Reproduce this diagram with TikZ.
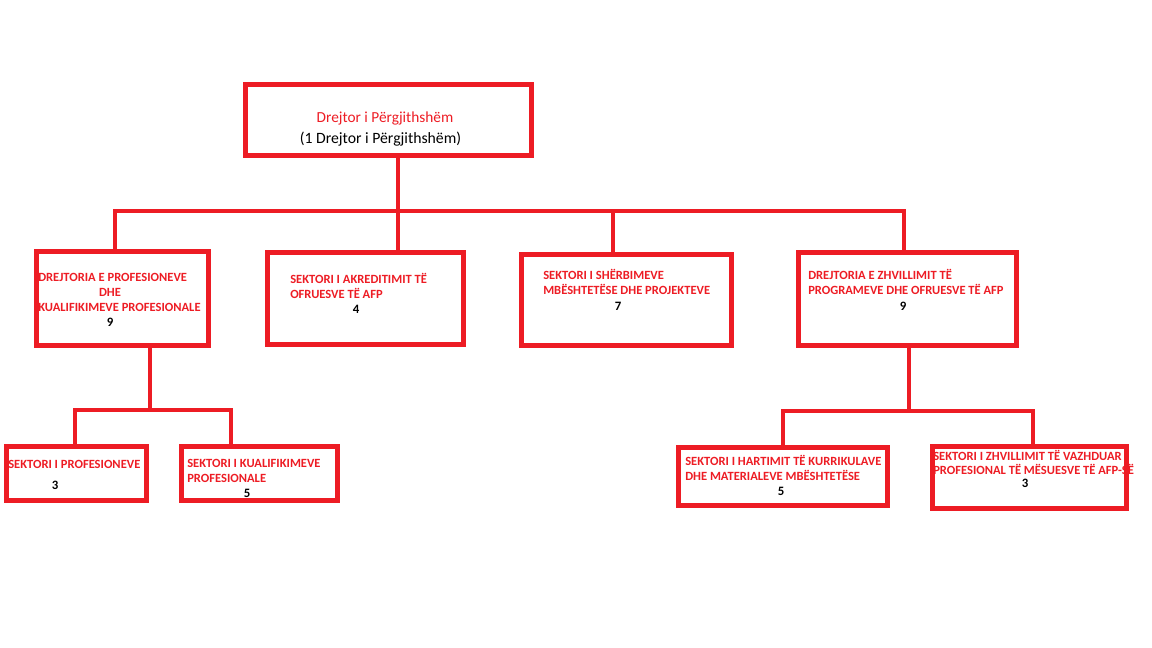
\documentclass[tikz,border=0pt]{standalone}
\usepackage{fontspec}
\setmainfont{Carlito}
\usepackage{tikz}
\usetikzlibrary{positioning}
\definecolor{colorBox}{HTML}{ED1C24}
\tikzset{
  link/.style={draw=colorBox, line width=3.4pt},
  unit/.style={draw=colorBox, line width=3.75pt, inner sep=0pt},
  caption/.style={text=colorBox, inner sep=0pt, anchor=base west, font=\bfseries\fontsize{9.4}{11}\selectfont},
  count/.style={inner sep=0pt, anchor=base, font=\bfseries\fontsize{9.6}{11}\selectfont},
}

\begin{document}
\begin{tikzpicture}[x=0.75pt, y=-0.75pt]
\useasboundingbox (0,0) rectangle (1152,648);
% boxes
\node[unit, minimum width=286*0.75pt, minimum height=71*0.75pt] (gen) at (388.5,120) {};
\node[unit, minimum width=172*0.75pt, minimum height=94*0.75pt] (b1) at (122,298.5) {};
\node[unit, minimum width=196*0.75pt, minimum height=92*0.75pt] (b2) at (365.5,298.5) {};
\node[unit, minimum width=210*0.75pt, minimum height=91*0.75pt] (b3) at (626.5,300) {};
\node[unit, minimum width=218*0.75pt, minimum height=93*0.75pt] (b4) at (907.5,299) {};
\node[unit, minimum width=140*0.75pt, minimum height=54*0.75pt] (b5) at (76.5,473.5) {};
\node[unit, minimum width=156*0.75pt, minimum height=54*0.75pt] (b6) at (259.5,473.5) {};
\node[unit, minimum width=209*0.75pt, minimum height=58*0.75pt] (b7) at (783,476.5) {};
\node[unit, minimum width=194*0.75pt, minimum height=62*0.75pt] (b8) at (1029.5,477.5) {};
% connectors
\coordinate (hub) at (398,211);
\coordinate (busW) at (115,211);
\coordinate (busE) at (904,211);
\coordinate (mid) at (613,211);
\draw[link] (gen.south -| hub) -- (hub);
\draw[link] (busW |- b1.north) -- (busW) -- (busE) -- (busE |- b4.north);
\draw[link] (hub) -- (hub |- b2.north);
\draw[link] (mid) -- (mid |- b3.north);
\coordinate (hubL) at (150,410);
\coordinate (subL1) at (75,410);
\coordinate (subL2) at (231,410);
\draw[link] (b1.south -| hubL) -- (hubL);
\draw[link] (subL1 |- b5.north) -- (subL1) -- (subL2) -- (subL2 |- b6.north);
\coordinate (hubR) at (909,411);
\coordinate (subR1) at (783,411);
\coordinate (subR2) at (1033,411);
\draw[link] (b4.south -| hubR) -- (hubR);
\draw[link] (subR1 |- b7.north) -- (subR1) -- (subR2) -- (subR2 |- b8.north);
% texts
\node[inner sep=0pt, anchor=base, text=colorBox, font=\fontsize{11.5}{13}\selectfont] (gen-t) at (385,123) {Drejtor i Përgjithshëm};
\node[inner sep=0pt, anchor=base, font=\fontsize{11.8}{13}\selectfont] (gen-n) at (380.5,144) {(1 Drejtor i Përgjithshëm)};
\node[caption] (b1-t1) at (38,282) {DREJTORIA E PROFESIONEVE};
\node[caption, anchor=base] (b1-t2) at (110,297) {DHE};
\node[caption] (b1-t3) at (38,312) {KUALIFIKIMEVE PROFESIONALE};
\node[count] (b1-n) at (110,327) {9};
\node[caption] (b2-t1) at (290,284) {SEKTORI I AKREDITIMIT TË};
\node[caption] (b2-t2) at (290,299) {OFRUESVE TË AFP};
\node[count] (b2-n) at (356,314) {4};
\node[caption] (b3-t1) at (543,280) {SEKTORI I SHËRBIMEVE};
\node[caption] (b3-t2) at (543,295) {MBËSHTETËSE DHE PROJEKTEVE};
\node[count] (b3-n) at (618,311) {7};
\node[caption] (b4-t1) at (808,280) {DREJTORIA E ZHVILLIMIT TË};
\node[caption] (b4-t2) at (808,295) {PROGRAMEVE DHE OFRUESVE TË AFP};
\node[count] (b4-n) at (903,311) {9};
\node[caption] (b5-t1) at (8,468) {SEKTORI I PROFESIONEVE};
\node[count] (b5-n) at (55,489) {3};
\node[caption] (b6-t1) at (187,467) {SEKTORI I KUALIFIKIMEVE};
\node[caption] (b6-t2) at (187,482) {PROFESIONALE};
\node[count] (b6-n) at (247,497) {5};
\node[caption] (b7-t1) at (685,465) {SEKTORI I HARTIMIT TË KURRIKULAVE};
\node[caption] (b7-t2) at (685,480) {DHE MATERIALEVE MBËSHTETËSE};
\node[count] (b7-n) at (781,495) {5};
\node[caption] (b8-t1) at (933,460) {SEKTORI I ZHVILLIMIT TË VAZHDUAR};
\node[caption] (b8-t2) at (933,474) {PROFESIONAL TË MËSUESVE TË AFP-SË};
\node[count] (b8-n) at (1025,487) {3};
\end{tikzpicture}
\end{document}
